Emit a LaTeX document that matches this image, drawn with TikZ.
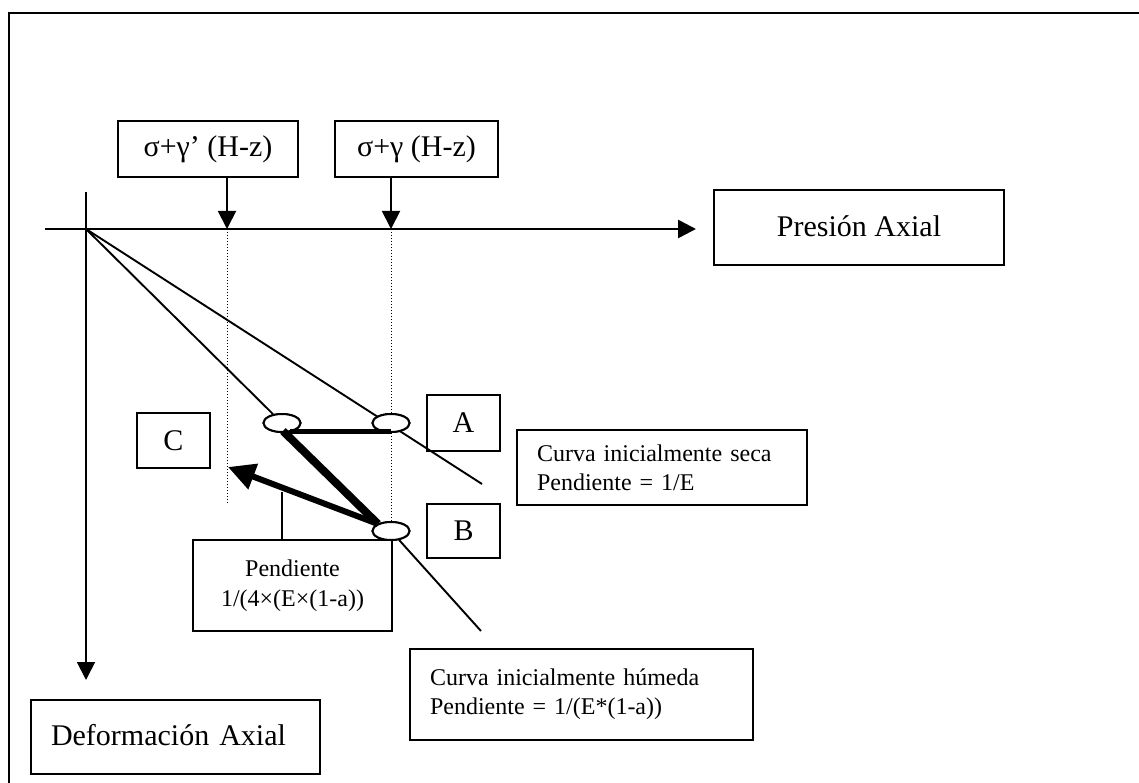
\documentclass[tikz,border=0pt]{standalone}
\usepackage{fontspec}
\setmainfont{Liberation Serif}
\usetikzlibrary{arrows.meta,calc,shapes.geometric}
\begin{document}
\begin{tikzpicture}[x=1pt,y=-1pt,
  frameline/.style={line width=2.5pt},
  thinline/.style={line width=1.9pt},
  box/.style={draw,line width=1.9pt,inner sep=0pt,font=\fontsize{30}{36}\selectfont},
  notebox/.style={draw,line width=1.9pt,inner ysep=0pt,inner xsep=20pt,align=left,
    font=\fontsize{24}{29}\selectfont},
  pt/.style={draw,line width=2pt,fill=white,ellipse,minimum width=37pt,minimum height=18pt,inner sep=0pt},
  axisarrow/.style={thinline,-{Triangle[length=18pt,width=18pt]}},
  guide/.style={line width=1pt,dash pattern=on 1.2pt off 1.8pt},
  heavy/.style={line width=#1,line cap=butt}
]
\useasboundingbox (0,0) rectangle (1139,783);
\fill[white] (0,0) rectangle (1139,783);

% outer frame
\draw[frameline] (9,783) -- (9,13) -- (1139,13);

% axes
\coordinate (O) at (86,229);
\coordinate (hstart) at (45,229);
\coordinate (hend) at (696,229);
\coordinate (vtop) at (86,192);
\coordinate (vend) at (86,680);
\draw[axisarrow,line width=2.6pt] (hstart) -- (hend);
\draw[axisarrow] (vtop) -- (vend);

% stress labels
\node[box,minimum width=180pt,minimum height=56pt] (s1) at (208,149) {σ+γ’ (H-z)};
\node[box,minimum width=163pt,minimum height=56pt] (s2) at (416.5,149) {σ+γ (H-z)};
\coordinate (p1) at (227,229);
\coordinate (p2) at (391,229);
\draw[axisarrow] (p1 |- s1.south) -- (p1);
\draw[axisarrow] (p2 |- s2.south) -- (p2);

% axis titles
\node[box,minimum width=290pt,minimum height=75pt] (pa) at (859,227.5) {\raisebox{3pt}{Presión Axial}};
\node[box,text width=249pt,inner xsep=20pt,align=left,minimum height=74pt] (da) at (175.5,737) {\raisebox{5pt}{Deformación Axial}};

% dotted guides
\coordinate (g1) at (227,503);
\coordinate (g2) at (391,522);
\draw[guide] (p1) -- (g1);
\draw[guide] (p2) -- (g2);

% curves
\coordinate (dryend) at (482,484);
\coordinate (wetend) at (481,631);
\node[pt] (L) at (282,423) {};
\node[pt] (Ap) at (391,423) {};
\node[pt] (Bp) at (391,531) {};
\draw[thinline] (O) -- (dryend);
\draw[thinline] (O) -- (L);
\draw[thinline] (Bp) -- (wetend);
\node[pt] at (L) {};
\node[pt] at (Ap) {};
\node[pt] at (Bp) {};

% load path
\coordinate (h1) at (290,431);
\coordinate (h2) at (391,431);
\coordinate (d1) at (283,431);
\coordinate (d2) at (378,524);
\coordinate (tip) at (228,467);
\draw[heavy=5pt] (h1) -- (h2);
\draw[heavy=8pt] (d1) -- (d2);
\draw[heavy=6pt,-{Triangle[length=27pt,width=26pt]}] (d2) -- (tip);

% point labels
\node[box,minimum width=73pt,minimum height=55pt] (C) at (173.5,440.5) {C};
\node[box,minimum width=73pt,minimum height=56pt] (A) at (463.5,423) {A};
\node[box,minimum width=73pt,minimum height=54pt] (B) at (463.5,531) {B};

% notes
\node[notebox,text width=250pt,minimum height=75pt] (seca) at (662,467.5)
  {\raisebox{4pt}{\parbox{250pt}{Curva inicialmente seca\\Pendiente = 1/E}}};
\node[notebox,text width=303pt,minimum height=91pt] (hum) at (581.5,694.5)
  {\raisebox{4pt}{\parbox{303pt}{Curva inicialmente húmeda\\Pendiente = 1/(E*(1-a))}}};
\node[draw,line width=1.9pt,inner sep=0pt,minimum width=199pt,minimum height=91pt,align=center,
  font=\fontsize{24}{30}\selectfont] (pend) at (292.5,585.5)
  {\raisebox{4pt}{\parbox{199pt}{\centering Pendiente\\1/(4×(E×(1-a))}}};
\coordinate (lead) at (282,492);
\draw[thinline] (lead) -- (lead |- pend.north);
\end{tikzpicture}
\end{document}
